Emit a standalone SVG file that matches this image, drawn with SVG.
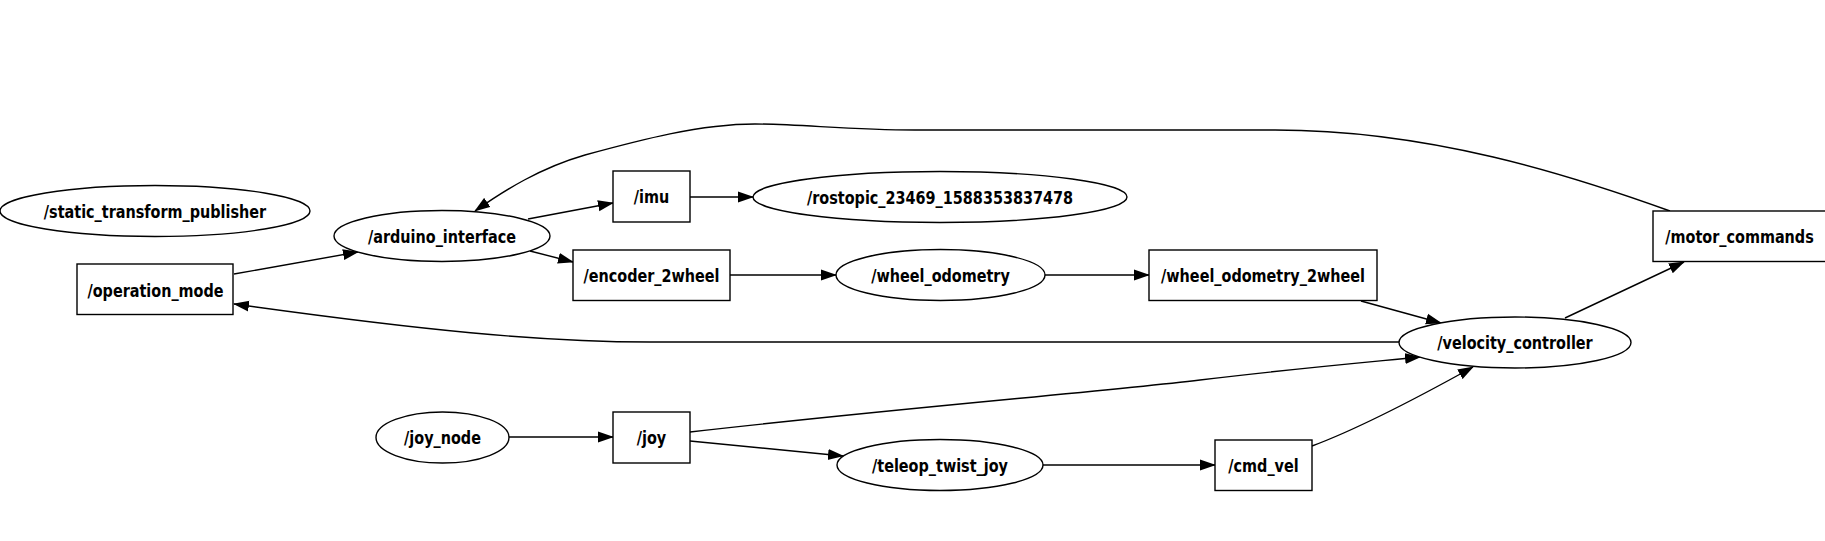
<svg xmlns="http://www.w3.org/2000/svg" width="1825" height="541" viewBox="0 0 1825 541">
<style>
.n ellipse, .n rect { fill: #ffffff; stroke: #000000; stroke-width: 1.4; }
.n text { font-family: "DejaVu Sans Condensed", "DejaVu Sans", sans-serif; font-stretch: condensed; font-weight: bold; font-size: 18px; text-anchor: middle; fill: #000000; }
.e path { fill: none; stroke: #000000; stroke-width: 1.4; marker-end: url(#arr); }
</style>
<defs>
<marker id="arr" markerUnits="userSpaceOnUse" markerWidth="16" markerHeight="12" viewBox="0 0 16 12" refX="15" refY="6" orient="auto">
<path d="M0,0.5 L16,6 L0,11.5 z" fill="#000000"/>
</marker>
</defs>
<rect x="0" y="0" width="1825" height="541" fill="#ffffff"/>
<g id="edges" class="e">
<path d="M234,274 L358,252"/>
<path d="M528,219 L613,203"/>
<path d="M530,251 L573,262"/>
<path d="M690,197 L753,197"/>
<path d="M730,275 L836,275"/>
<path d="M1045,275 L1149,275"/>
<path d="M1361,301 L1441,323"/>
<path d="M1565,318 L1684,262"/>
<path d="M1670,211 C1570,175 1430,130 1275,130 L915,130 C850,130 800,124 755,124 C700,124 640,140 585,155 C540,168 505,190 475,211"/>
<path d="M1399,342 L650,342 C540,342 420,330 234,304"/>
<path d="M509,437 L613,437"/>
<path d="M690,432 C900,408 1100,392 1200,380 C1300,368 1370,362 1420,357"/>
<path d="M690,441 L843,456"/>
<path d="M1043,465 L1215,465"/>
<path d="M1312,446 C1355,430 1410,402 1473,367"/>
</g>
<g id="static_transform_publisher" class="n"><ellipse cx="155" cy="211" rx="155" ry="25.5"/><text transform="translate(155,217.5) scale(0.89,1)">/static_transform_publisher</text></g>
<g id="arduino_interface" class="n"><ellipse cx="442" cy="236" rx="108" ry="25.5"/><text transform="translate(442,242.5) scale(0.89,1)">/arduino_interface</text></g>
<g id="operation_mode" class="n"><rect x="77" y="264" width="156" height="50.5"/><text transform="translate(155.5,296.5) scale(0.89,1)">/operation_mode</text></g>
<g id="imu" class="n"><rect x="613" y="171" width="77" height="51"/><text transform="translate(651.5,203) scale(0.89,1)">/imu</text></g>
<g id="rostopic_23469_1588353837478" class="n"><ellipse cx="940" cy="197" rx="187" ry="25.5"/><text transform="translate(940,203.5) scale(0.89,1)">/rostopic_23469_1588353837478</text></g>
<g id="encoder_2wheel" class="n"><rect x="573" y="250" width="157" height="50.5"/><text transform="translate(651.5,281.5) scale(0.89,1)">/encoder_2wheel</text></g>
<g id="wheel_odometry" class="n"><ellipse cx="940.5" cy="275" rx="104.5" ry="25.5"/><text transform="translate(940.5,281.5) scale(0.89,1)">/wheel_odometry</text></g>
<g id="wheel_odometry_2wheel" class="n"><rect x="1149" y="250" width="228" height="50.5"/><text transform="translate(1263,281.5) scale(0.89,1)">/wheel_odometry_2wheel</text></g>
<g id="motor_commands" class="n"><rect x="1653" y="211" width="175" height="50.5"/><text transform="translate(1739.5,243) scale(0.89,1)">/motor_commands</text></g>
<g id="velocity_controller" class="n"><ellipse cx="1515" cy="342.5" rx="116" ry="25.5"/><text transform="translate(1515,349) scale(0.89,1)">/velocity_controller</text></g>
<g id="joy_node" class="n"><ellipse cx="442.5" cy="437.5" rx="66.5" ry="25.5"/><text transform="translate(442.5,444) scale(0.89,1)">/joy_node</text></g>
<g id="joy" class="n"><rect x="613" y="412" width="77" height="51"/><text transform="translate(651.5,444) scale(0.89,1)">/joy</text></g>
<g id="teleop_twist_joy" class="n"><ellipse cx="940" cy="465" rx="103" ry="25.5"/><text transform="translate(940,471.5) scale(0.89,1)">/teleop_twist_joy</text></g>
<g id="cmd_vel" class="n"><rect x="1215" y="440" width="97" height="50.5"/><text transform="translate(1263.5,471.5) scale(0.89,1)">/cmd_vel</text></g>
</svg>
